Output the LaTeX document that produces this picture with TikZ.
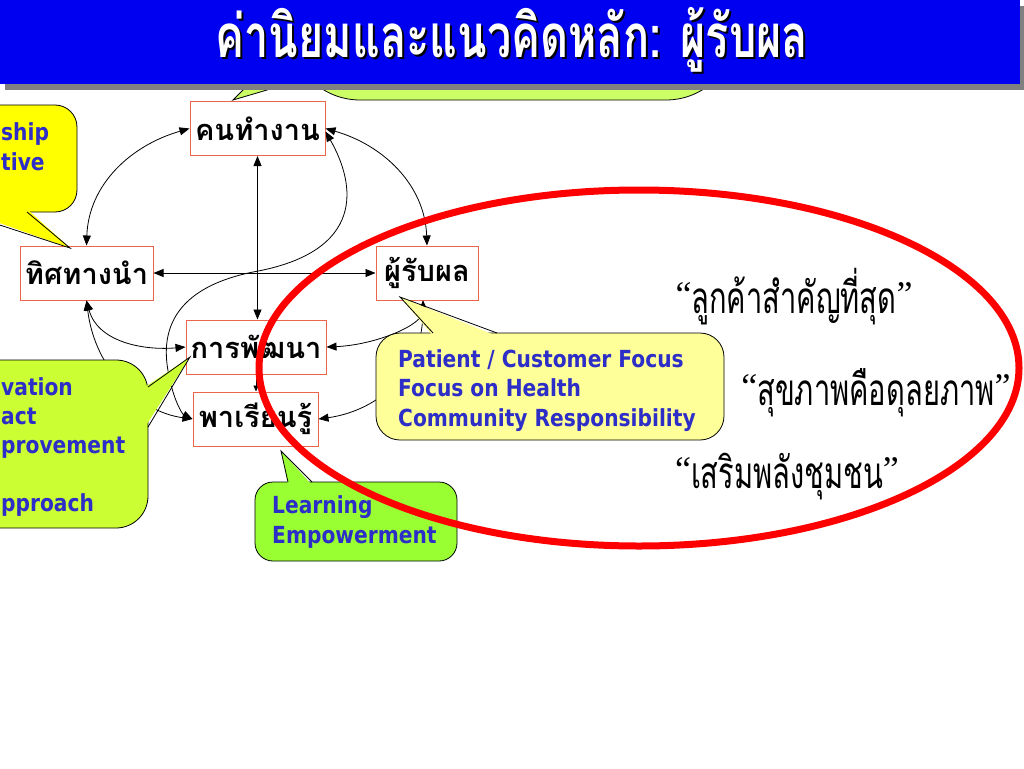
\documentclass[tikz,border=0pt]{standalone}
\usepackage{fontspec}
\usetikzlibrary{arrows.meta}
\newfontfamily\thaifont[Script=Thai]{Loma}
\newfontfamily\thaititle[Script=Thai,FakeStretch=0.72]{Loma}
\newfontfamily\thaiquote[Script=Thai,FakeStretch=0.66]{Loma}
\newfontfamily\quotemarks{Liberation Serif}
\newfontfamily\callfont[FakeStretch=0.86]{DejaVu Sans}
\definecolor{titleblue}{RGB}{0,0,240}
\definecolor{shadowgray}{RGB}{128,128,128}
\definecolor{boxred}{RGB}{235,100,75}
\definecolor{ctblue}{RGB}{45,45,200}
\definecolor{yelA}{RGB}{255,255,0}
\definecolor{yelB}{RGB}{255,255,153}
\definecolor{grnA}{RGB}{204,255,102}
\definecolor{grnB}{RGB}{204,255,51}
\definecolor{grnC}{RGB}{153,255,51}
\definecolor{ellred}{RGB}{255,0,0}
\newcommand{\oq}{\raisebox{7pt}{\quotemarks\fontsize{36}{36}\selectfont “}}
\newcommand{\cq}{\raisebox{7pt}{\quotemarks\fontsize{36}{36}\selectfont ”}}
\tikzset{
  box/.style={draw=boxred, line width=1pt, fill=white, minimum height=54pt, inner sep=0pt,
    font=\thaifont\bfseries\fontsize{29}{29}\selectfont},
  conn/.style={line width=0.8pt, {Triangle[length=10pt,width=8pt]}-{Triangle[length=10pt,width=8pt]}},
  ctext/.style={font=\callfont\bfseries\fontsize{23.5}{28}\selectfont, text=ctblue, inner sep=0pt},
  qtext/.style={font=\thaiquote\fontsize{44}{44}\selectfont, inner sep=0pt},
  ttext/.style={font=\thaititle\bfseries\fontsize{60}{60}\selectfont},
  cedge/.style={draw=black, line width=0.8pt},
}
\begin{document}
\begin{tikzpicture}[x=1pt,y=1pt]
\useasboundingbox (0,0) rectangle (1024,-768);
\fill[white] (0,0) rectangle (1024,-768);

% top green callout (mostly hidden by the title bar)
\filldraw[cedge, fill=grnA, rounded corners=70] (290,-10) rectangle (736,-100);
\coordinate (tipTop) at (233,-100);
\filldraw[cedge, fill=grnA] (253,-80) -- (tipTop) -- (301,-80) -- cycle;

% title bar
\fill[shadowgray] (5,-6) rectangle (1024,-90);
\fill[titleblue] (0,0) rectangle (1020,-84);
\node[ttext, text=black] at (514,-42) {ค่านิยมและแนวคิดหลัก: ผู้รับผล};
\node[ttext, text=white] (title) at (512,-40) {ค่านิยมและแนวคิดหลัก: ผู้รับผล};

% nodes
\node[box, minimum width=135pt] (kt) at (257.5,-128.5) {คนทำงาน};
\node[box, minimum width=133pt] (tt) at (86.5,-273) {ทิศทางนำ};
\node[box, minimum width=102pt] (pr) at (427,-273) {ผู้รับผล};
\node[box, minimum width=140pt] (pt) at (256,-347) {การพัฒนา};
\node[box, minimum width=125pt] (pl) at (255.5,-419) {พาเรียนรู้};

% connectors
\draw[conn] (kt.west) to[out=196,in=88] (tt.north);
\draw[conn] (kt.east) to[out=-16,in=92] (pr.north);
\draw[conn] (kt.south) -- (kt.south |- pt.north);
\draw[conn] (tt.east) -- (pr.west);
\draw[conn] ([yshift=-3pt]kt.east) .. controls (356,-185) and (366,-252) .. (253,-272)
   .. controls (165,-290) and (160,-340) .. (170,-380) .. controls (174,-400) and (182,-414) .. (pl.west);
\draw[conn] (tt.south) to[out=-75,in=185] (pt.west);
\draw[conn] (tt.south) .. controls (95,-370) and (140,-412) .. (pl.west);
\draw[conn] ([xshift=-4pt]pr.south) .. controls (424,-325) and (375,-345) .. (pt.east);
\draw[conn] ([xshift=-4pt]pr.south) .. controls (423,-380) and (370,-412) .. (pl.east);
\draw[line width=0.8pt, -{Triangle[length=6pt,width=5pt]}] (pt.south) -- (pt.south |- pl.north);

% callout: yellow, top left
\fill[yelA, rounded corners=22] (-60,-105) rectangle (77,-212);
\draw[cedge, rounded corners=22] (-60,-105) rectangle (77,-212);
\coordinate (tipA) at (70,-248);
\fill[yelA] (27,-209) -- (tipA) -- (-40,-209) -- cycle;
\draw[cedge] (27,-212) -- (tipA) -- (-40,-212);
\node[ctext, anchor=base west] (cA1) at (1,-140) {ship};
\node[ctext, anchor=base west] (cA2) at (1,-170) {tive};

% callout: green, left
\fill[grnB, rounded corners=32] (-60,-360) rectangle (148,-528);
\draw[cedge, rounded corners=32] (-60,-360) rectangle (148,-528);
\coordinate (tipB) at (190,-357);
\fill[grnB] (145,-387) -- (tipB) -- (145,-427) -- cycle;
\draw[cedge] (148,-387) -- (tipB) -- (148,-427);
\node[ctext, anchor=base west] (cB1) at (1,-395) {vation};
\node[ctext, anchor=base west] (cB2) at (1,-424) {act};
\node[ctext, anchor=base west] (cB3) at (1,-453) {provement};
\node[ctext, anchor=base west] (cB4) at (1,-511) {pproach};

% callout: light yellow, right
\fill[yelB, rounded corners=24] (376,-333) rectangle (724,-440);
\draw[cedge, rounded corners=24] (376,-333) rectangle (724,-440);
\coordinate (tipC) at (400,-297);
\fill[yelB] (433,-336) -- (tipC) -- (497,-336) -- cycle;
\draw[cedge] (433,-333) -- (tipC) -- (497,-333);
\node[ctext, anchor=base west] (cC1) at (398,-367) {Patient / Customer Focus};
\node[ctext, anchor=base west] (cC2) at (398,-396) {Focus on Health};
\node[ctext, anchor=base west] (cC3) at (398,-426) {Community Responsibility};

% callout: green, bottom
\fill[grnC, rounded corners=18] (255,-482) rectangle (457,-561);
\draw[cedge, rounded corners=18] (255,-482) rectangle (457,-561);
\coordinate (tipD) at (281,-451);
\fill[grnC] (288,-485) -- (tipD) -- (312,-485) -- cycle;
\draw[cedge] (288,-482) -- (tipD) -- (312,-482);
\node[ctext, anchor=base west] (cD1) at (272,-513) {Learning};
\node[ctext, anchor=base west] (cD2) at (272,-543) {Empowerment};

% quotes
\node[qtext] (q1) at (794,-297) {\oq ลูกค้าสำคัญที่สุด\cq};
\node[qtext] (q2) at (876,-393) {\oq สุขภาพคือดุลยภาพ\cq};
\node[qtext] (q3) at (787,-477) {\oq เสริมพลังชุมชน\cq};

% red ellipse
\draw[ellred, line width=7pt] (639,-368) ellipse [x radius=380, y radius=178];
\end{tikzpicture}
\end{document}
